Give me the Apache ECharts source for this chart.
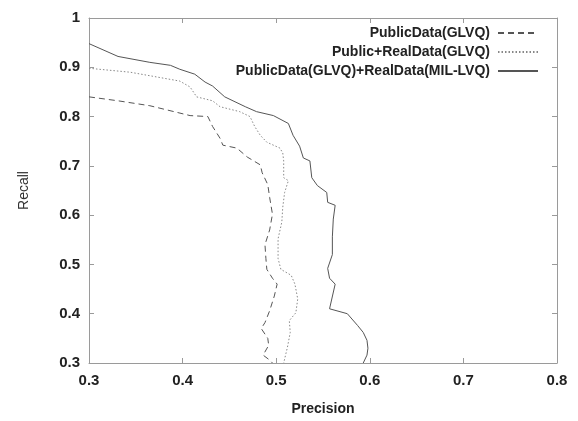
<!DOCTYPE html>
<html>
<head>
<meta charset="utf-8">
<script src="https://cdn.jsdelivr.net/npm/echarts@6/dist/echarts.min.js"></script>
<style>html,body{margin:0;padding:0;background:#fff}#c{width:578px;height:421px}</style>
</head>
<body>
<div id="c"></div>
<script>
var seriesNames = ['PublicData(GLVQ)', 'Public+RealData(GLVQ)', 'PublicData(GLVQ)+RealData(MIL-LVQ)'];
var xTicks = [0.3, 0.4, 0.5, 0.6, 0.7, 0.8];
var yTicks = [0.3, 0.4, 0.5, 0.6, 0.7, 0.8, 0.9, 1];

var publicPrecision = [0.300,0.331,0.365,0.408,0.427,0.432,0.440,0.443,0.458,0.469,0.483,0.485,0.491,0.493,0.496,0.493,0.488,0.489,0.490,0.496,0.501,0.498,0.493,0.488,0.484,0.491,0.492,0.486,0.493,0.496];
var publicRecall    = [0.840,0.832,0.822,0.802,0.800,0.780,0.756,0.742,0.736,0.718,0.702,0.686,0.662,0.636,0.602,0.570,0.540,0.512,0.490,0.472,0.460,0.436,0.406,0.382,0.370,0.350,0.336,0.316,0.306,0.300];

var realPrecision = [0.300,0.344,0.397,0.408,0.415,0.432,0.440,0.461,0.472,0.477,0.483,0.490,0.504,0.507,0.508,0.508,0.513,0.509,0.507,0.506,0.502,0.502,0.505,0.516,0.520,0.523,0.521,0.514,0.515,0.512,0.508];
var realRecall    = [0.898,0.890,0.872,0.860,0.840,0.832,0.820,0.810,0.800,0.780,0.762,0.748,0.736,0.726,0.710,0.676,0.670,0.646,0.616,0.586,0.552,0.512,0.490,0.478,0.460,0.430,0.402,0.386,0.362,0.332,0.300];

var milPrecision = [0.300,0.331,0.365,0.387,0.397,0.413,0.424,0.432,0.445,0.456,0.467,0.479,0.497,0.513,0.518,0.525,0.529,0.536,0.538,0.544,0.554,0.555,0.563,0.561,0.560,0.560,0.555,0.557,0.563,0.557,0.576,0.587,0.593,0.597,0.598,0.597,0.593];
var milRecall    = [0.948,0.922,0.910,0.904,0.896,0.886,0.870,0.862,0.840,0.830,0.820,0.810,0.802,0.786,0.762,0.740,0.716,0.710,0.676,0.660,0.646,0.626,0.620,0.592,0.556,0.520,0.492,0.472,0.460,0.410,0.400,0.376,0.362,0.346,0.330,0.316,0.300];

function pairs(xs, ys){ return xs.map(function(x,i){ return [x, ys[i]]; }); }

var chart = echarts.init(document.getElementById('c'), null, {renderer:'canvas'});
var font = 'Liberation Sans, Arial, sans-serif';
var frame = {lineStyle:{color:'#9a9a9a', width:1}};
var tick = {inside:true, length:5, lineStyle:{color:'#9a9a9a'}};
function fmt(v){ return String(Math.round(v*10)/10); }
chart.setOption({
  animation:false,
  backgroundColor:'#fff',
  grid:{left:89, right:21, top:18, bottom:53, containLabel:false},
  legend:{
    orient:'vertical', align:'right', right:34, top:21,
    itemWidth:40, itemHeight:14, itemGap:5,
    itemStyle:{opacity:0},
    textStyle:{fontFamily:font, fontSize:14, fontWeight:'bold', color:'#222', padding:[0,3,0,0]},
    data:seriesNames
  },
  xAxis:[{
    type:'value', min:0.3, max:0.8, interval:0.1,
    name:'Precision', nameLocation:'middle', nameGap:39,
    nameTextStyle:{fontFamily:font, fontSize:14, fontWeight:'bold', color:'#222'},
    axisLine:frame, axisTick:tick, splitLine:{show:false},
    axisLabel:{fontFamily:font, fontSize:15, fontWeight:'bold', color:'#222', margin:10, formatter:fmt}
  },{
    type:'value', position:'top', min:0.3, max:0.8, interval:0.1,
    axisLine:frame, axisTick:tick, axisLabel:{show:false}, splitLine:{show:false}
  }],
  yAxis:[{
    type:'value', min:0.3, max:1, interval:0.1,
    name:'Recall', nameLocation:'middle', nameGap:58, nameRotate:90,
    nameTextStyle:{fontFamily:font, fontSize:14, color:'#333'},
    axisLine:frame, axisTick:tick, splitLine:{show:false},
    axisLabel:{fontFamily:font, fontSize:15, fontWeight:'bold', color:'#222', margin:9, formatter:fmt}
  },{
    type:'value', position:'right', min:0.3, max:1, interval:0.1,
    axisLine:frame, axisTick:tick, axisLabel:{show:false}, splitLine:{show:false}
  }],
  series:[
    {name:seriesNames[0], type:'line', symbol:'none', data:pairs(publicPrecision, publicRecall),
     lineStyle:{color:'#555', width:1, type:[6,4]}, itemStyle:{color:'#555'}},
    {name:seriesNames[1], type:'line', symbol:'none', data:pairs(realPrecision, realRecall),
     lineStyle:{color:'#888', width:1, type:[1.5,2]}, itemStyle:{color:'#888'}},
    {name:seriesNames[2], type:'line', symbol:'none', data:pairs(milPrecision, milRecall),
     lineStyle:{color:'#555', width:1, type:'solid'}, itemStyle:{color:'#555'}}
  ]
});
</script>
</body>
</html>
